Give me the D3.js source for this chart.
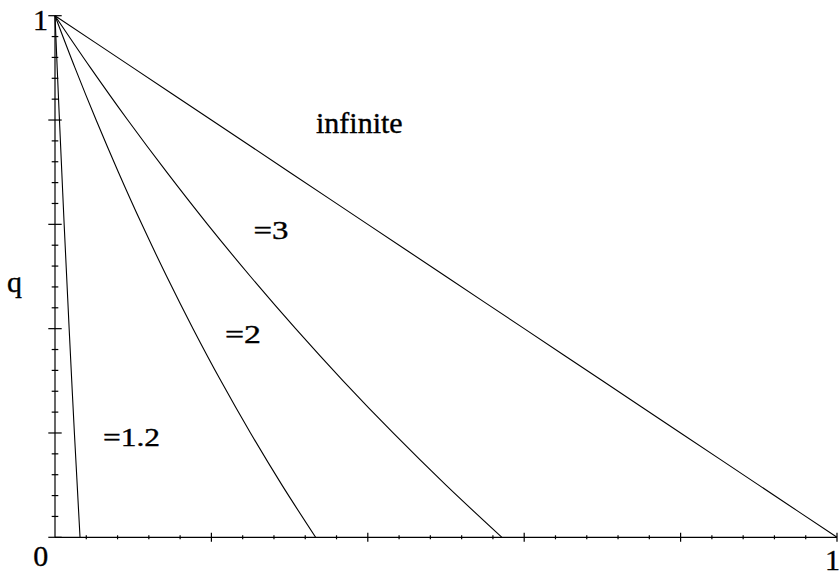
<!DOCTYPE html>
<html>
<head>
<meta charset="utf-8">
<script src="https://cdn.jsdelivr.net/npm/d3@7"></script>
<style>
  html, body { margin: 0; padding: 0; background: #fff; }
  svg { display: block; }
  text { stroke: #000; stroke-width: 0.35px; fill: #000; }
</style>
</head>
<body>
<svg id="chart" width="839" height="574"></svg>
<script>
// ---- data ----
const qValues = [1, 0.9, 0.8, 0.7, 0.6, 0.5, 0.4, 0.3, 0.2, 0.1, 0];
const xGamma12 = [0, 0.0028, 0.0057, 0.0087, 0.0117, 0.0149, 0.0181, 0.0214, 0.0248, 0.0284, 0.032];
const xGamma2  = [0, 0.0256, 0.0526, 0.0811, 0.1111, 0.1429, 0.1765, 0.2121, 0.25, 0.2903, 0.3333];
const xGamma3  = [0, 0.0455, 0.093, 0.1429, 0.1951, 0.25, 0.3077, 0.3684, 0.4324, 0.5, 0.5714];
const xInfinite = [0, 0.1, 0.2, 0.3, 0.4, 0.5, 0.6, 0.7, 0.8, 0.9, 1];
const seriesNames = ["=1.2", "=2", "=3", "infinite"];
const minorTicks = [0.04, 0.08, 0.12, 0.16, 0.24, 0.28, 0.32, 0.36, 0.44, 0.48, 0.52, 0.56,
                    0.64, 0.68, 0.72, 0.76, 0.84, 0.88, 0.92, 0.96];
const majorTicks = [0, 0.2, 0.4, 0.6, 0.8, 1];
const xTickLabels = [{v: 0, t: "0"}, {v: 1, t: "1"}];
const yTickLabels = [{v: 1, t: "1"}];
const yAxisTitle = "q";

// ---- layout ----
const FONT = "'Liberation Serif', Tinos, 'Times New Roman', Times, serif";
const svg = d3.select("#chart");
const x = d3.scaleLinear().domain([0, 1]).range([55, 837]);
const y = d3.scaleLinear().domain([0, 1]).range([537.3, 15.7]);

const series = [xGamma12, xGamma2, xGamma3, xInfinite].map((xs, i) => ({
  name: seriesNames[i],
  pts: xs.map((xv, j) => [xv, qValues[j]])
}));

const line = d3.line()
  .x(d => x(d[0]))
  .y(d => y(d[1]))
  .curve(d3.curveMonotoneY);

svg.append("g").selectAll("path").data(series).join("path")
  .attr("d", d => line(d.pts))
  .attr("fill", "none")
  .attr("stroke", "#000")
  .attr("stroke-width", 1.1);

// axes
const ax = svg.append("g").attr("stroke", "#000").attr("stroke-width", 1.2);
ax.append("line").attr("x1", x(0)).attr("x2", x(1)).attr("y1", y(0)).attr("y2", y(0));
ax.append("line").attr("x1", x(0)).attr("x2", x(0)).attr("y1", y(0)).attr("y2", y(1));

// x ticks
ax.selectAll(".xmin").data(minorTicks).join("line")
  .attr("x1", d => x(d)).attr("x2", d => x(d))
  .attr("y1", y(0) - 2).attr("y2", y(0) + 2);
ax.selectAll(".xmaj").data(majorTicks.filter(d => d > 0)).join("line")
  .attr("x1", d => x(d)).attr("x2", d => x(d))
  .attr("y1", y(0) - 4.5).attr("y2", y(0) + 4.5);
// y ticks
ax.selectAll(".ymin").data(minorTicks).join("line")
  .attr("y1", d => y(d)).attr("y2", d => y(d))
  .attr("x1", x(0) - 3.3).attr("x2", x(0) + 3.3);
ax.selectAll(".ymaj").data(majorTicks).join("line")
  .attr("y1", d => y(d)).attr("y2", d => y(d))
  .attr("x1", x(0) - 6.7).attr("x2", x(0) + 6.7);

// tick labels
const tl = svg.append("g").attr("font-family", FONT).attr("font-size", 30);
tl.selectAll(".xl").data(xTickLabels).join("text")
  .attr("x", d => d.v === 0 ? 40.8 : 825)
  .attr("y", d => d.v === 0 ? 566 : 570)
  .attr("text-anchor", d => d.v === 0 ? "middle" : "start")
  .text(d => d.t);
tl.selectAll(".yl").data(yTickLabels).join("text")
  .attr("x", 40.5)
  .attr("y", 30.2)
  .attr("text-anchor", "middle")
  .text(d => d.t);

svg.append("text").attr("font-family", FONT).attr("font-size", 30)
  .attr("x", 7).attr("y", 291.5).text(yAxisTitle);

// curve labels
const labelPos = [
  {x: 103, y: 446.3, w: 57, fs: 24.5},
  {x: 225, y: 343.3, w: 36, fs: 24.5},
  {x: 253.5, y: 238.8, w: 35, fs: 24.5},
  {x: 316, y: 133.3, w: null, fs: 30}
];
svg.append("g").attr("font-family", FONT)
  .selectAll("text").data(series).join("text")
  .attr("x", (d, i) => labelPos[i].x)
  .attr("y", (d, i) => labelPos[i].y)
  .attr("font-size", (d, i) => labelPos[i].fs)
  .attr("textLength", (d, i) => labelPos[i].w)
  .attr("lengthAdjust", "spacingAndGlyphs")
  .text(d => d.name);
</script>
</body>
</html>
